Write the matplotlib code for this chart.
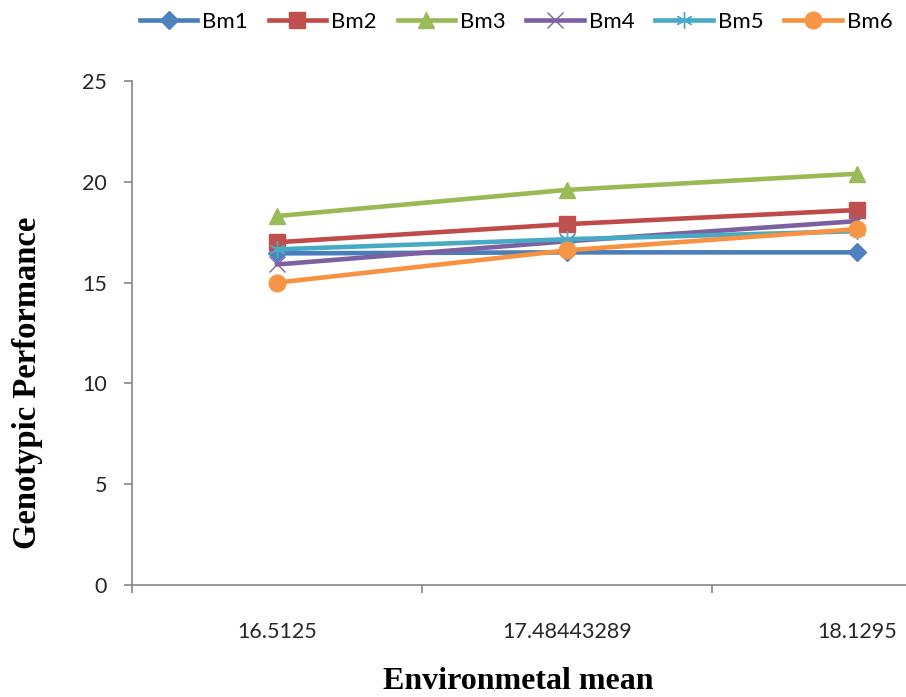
import matplotlib
matplotlib.use("Agg")
import matplotlib.pyplot as plt

# categories on the x axis (environmental means)
env_means = ["16.5125", "17.48443289", "18.1295"]

# genotypic performance per genotype
bm1 = [16.45, 16.5, 16.5]
bm2 = [17.0, 17.9, 18.6]
bm3 = [18.3, 19.6, 20.4]
bm4 = [15.9, 17.05, 18.05]
bm5 = [16.65, 17.15, 17.55]
bm6 = [15.0, 16.6, 17.65]

W, H = 906, 697
fig = plt.figure(figsize=(W / 100, H / 100), dpi=100)
ax = fig.add_axes([132 / W, 1 - 585 / H, 870 / W, 504 / H])

x = list(range(len(env_means)))
axis_grey = "#868686"

ax.plot(x, bm1, color="#4A7EBB", lw=3.3, marker="D", ms=9, mfc="#4F81BD", mec="#4F81BD", label="Bm1")
ax.plot(x, bm2, color="#BE4B48", lw=3.3, marker="s", ms=11, mfc="#C0504D", mec="#C0504D", label="Bm2")
ax.plot(x, bm3, color="#98B954", lw=3.3, marker="^", ms=12, mfc="#9BBB59", mec="#9BBB59", label="Bm3")
ax.plot(x, bm4, color="#7D60A0", lw=3.3, marker="x", ms=11, mec="#8064A2", mew=1.0, label="Bm4")
ax.plot(x, bm5, color="#46AAC5", lw=3.3, marker=(6, 2, 0), ms=12, mec="#4BACC6", mew=1.0, label="Bm5")
ax.plot(x, bm6, color="#F69240", lw=3.3, marker="o", ms=12, mfc="#F79646", mec="#F79646", label="Bm6")

ax.set_xlim(-0.5, 2.5)
ax.set_ylim(0, 25)
ax.set_yticks([0, 5, 10, 15, 20, 25])
ax.set_xticks(x)
ax.set_xticklabels(env_means)
ax.set_xticks([-0.5, 0.5, 1.5, 2.5], minor=True)

for s in ["top", "right"]:
    ax.spines[s].set_visible(False)
for s in ["left", "bottom"]:
    ax.spines[s].set_color(axis_grey)
    ax.spines[s].set_linewidth(1.2)

tick_font = "Lato"
ax.tick_params(axis="y", direction="out", length=6, width=1.2, color=axis_grey,
               pad=12, labelsize=15.5, labelcolor="#262626")
ax.tick_params(axis="x", which="major", length=0, pad=27, labelsize=15.5, labelcolor="#262626")
ax.tick_params(axis="x", which="minor", direction="out", length=6, width=1.2, color=axis_grey)
for lab in ax.get_xticklabels() + ax.get_yticklabels():
    lab.set_family(tick_font)

fig.text(28 / W, 1 - 383 / H, "Genotypic Performance", rotation=90, ha="center", va="center",
         family="Liberation Serif", weight="bold", fontsize=23.5)
fig.text(518 / W, 1 / H, "Environmetal mean", ha="center", va="bottom",
         family="Liberation Serif", weight="bold", fontsize=23)

fig.legend(loc="center", bbox_to_anchor=(516 / W, 1 - 22 / H), ncol=6, frameon=False,
           prop={"family": tick_font, "size": 16}, handlelength=2.6, handletextpad=0.2,
           columnspacing=0.95, borderaxespad=0, borderpad=0.1)

fig.savefig("out.png", dpi=100)
